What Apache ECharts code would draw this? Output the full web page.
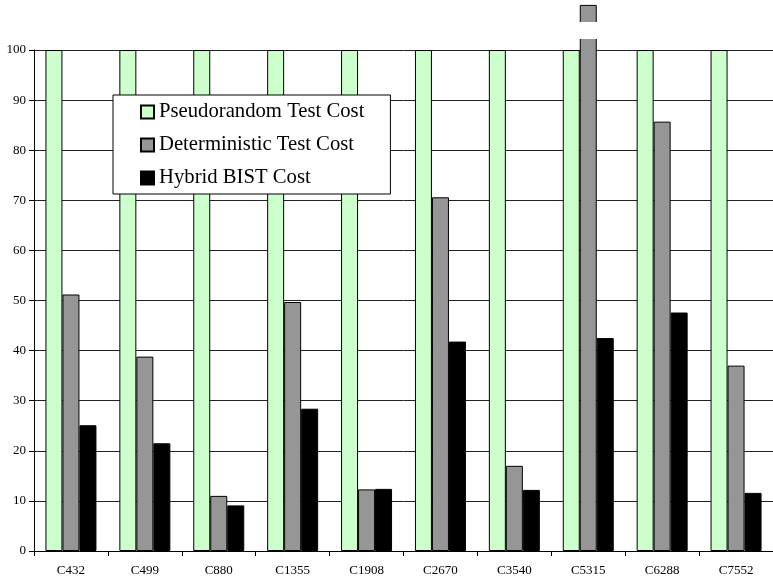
<!DOCTYPE html>
<html><head><meta charset="utf-8">
<script src="https://cdn.jsdelivr.net/npm/echarts@6/dist/echarts.min.js"></script>
<style>html,body{margin:0;padding:0;background:#fff}#c{width:773px;height:579px}</style>
</head><body><div id="c"></div>
<script>
const categories = ['C432','C499','C880','C1355','C1908','C2670','C3540','C5315','C6288','C7552'];
const pseudorandom = [100,100,100,100,100,100,100,100,100,100];
const deterministic = [51.2,38.8,11.0,49.7,12.3,70.6,17.0,109.0,85.7,37.0];
const hybrid = [25.1,21.5,9.1,28.4,12.4,41.8,12.2,42.5,47.6,11.6];
const yTicks = [0,10,20,30,40,50,60,70,80,90,100];

const chart = echarts.init(document.getElementById('c'));
const font = '"Liberation Serif", "Times New Roman", serif';
const mk = (name, data, color) => ({
  name, type: 'bar', data, barWidth: 17, barGap: '0%', clip: false,
  itemStyle: { color, borderColor: '#000', borderWidth: 1 }
});
chart.setOption({
  animation: false,
  textStyle: { fontFamily: font },
  grid: { left: 34, top: 50, width: 744, height: 501, containLabel: false },
  legend: {
    left: 113, top: 95, orient: 'vertical',
    backgroundColor: '#fff', borderColor: '#000', borderWidth: 1,
    padding: [6.5, 26, 5.5, 27], itemGap: 12,
    itemWidth: 13, itemHeight: 13, icon: 'rect',
    textStyle: { fontFamily: font, fontSize: 20.7, color: '#000' },
    data: ['Pseudorandom Test Cost','Deterministic Test Cost','Hybrid BIST Cost']
  },
  xAxis: {
    type: 'category', data: categories,
    axisLine: { lineStyle: { color: '#000' } },
    axisTick: { show: true, length: 5, inside: false, lineStyle: { color: '#000' } },
    axisLabel: { fontFamily: font, fontSize: 13, color: '#000', margin: 13 }
  },
  yAxis: {
    type: 'value', min: yTicks[0], max: yTicks[yTicks.length-1], interval: 10,
    axisLine: { show: true, lineStyle: { color: '#000' } },
    axisTick: { show: true, length: 5, lineStyle: { color: '#000' } },
    axisLabel: { fontFamily: font, fontSize: 13, color: '#000', margin: 8 },
    splitLine: { show: true, lineStyle: { color: '#222', width: 1 } }
  },
  graphic: [{
    type: 'rect', left: 579, top: 22, shape: { width: 18, height: 17 },
    style: { fill: '#fff' }, z: 100
  }],
  series: [
    mk('Pseudorandom Test Cost', pseudorandom, '#ccffcc'),
    mk('Deterministic Test Cost', deterministic, '#969696'),
    mk('Hybrid BIST Cost', hybrid, '#000000')
  ]
});
</script></body></html>
